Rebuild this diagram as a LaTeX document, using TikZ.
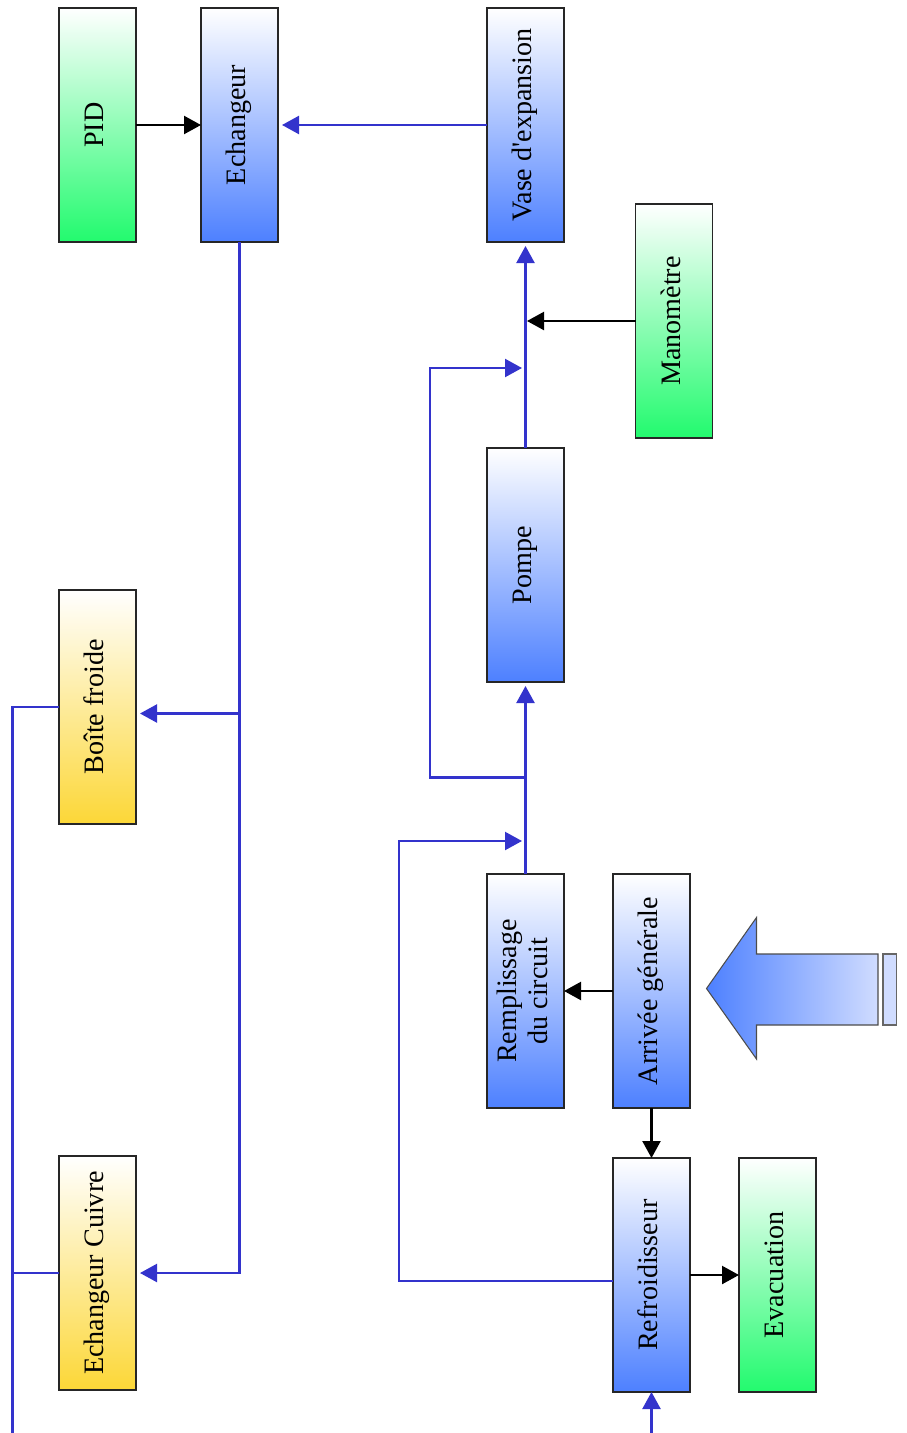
\documentclass[tikz,border=0pt]{standalone}
\usepackage{fontspec}
\setmainfont{Liberation Serif}
\usepackage{graphicx}
\usetikzlibrary{arrows.meta, positioning}
\definecolor{boxblue}{RGB}{77,128,255}
\definecolor{boxgreen}{RGB}{34,250,110}
\definecolor{boxyellow}{RGB}{252,215,55}
\definecolor{fluxblue}{RGB}{51,51,204}
\definecolor{paleblue}{RGB}{208,220,255}
\newcommand{\vtexte}[1]{\rotatebox{90}{\begin{tabular}{@{}c@{}}#1\end{tabular}}}
\tikzset{
    bloc/.style={rectangle, minimum width=1.54cm, minimum height=4.68cm, inner sep=0pt, outer sep=0pt, align=center, draw=black!85, line width=1.1pt, top color=white, font=\fontsize{16}{17.5}\selectfont},
    blocbleu/.style={bloc, bottom color=boxblue},
    blocvert/.style={bloc, bottom color=boxgreen},
    blocjaune/.style={bloc, bottom color=boxyellow},
    liaison/.style={line width=1.3pt, draw=fluxblue},
    flux/.style={liaison, -{Triangle[length=3.4mm,width=3.6mm]}, shorten >=0.08cm},
    signal/.style={line width=1.3pt, draw=black, -{Triangle[length=3.4mm,width=3.6mm]}}
}
\begin{document}
\begin{tikzpicture}
    \useasboundingbox (0,0) rectangle (18.12,-28.66);
    % Top row
    \node (pid) [blocvert] at (1.95,-2.5) {\vtexte{PID}};
    \node (ech) [blocbleu, right=1.3cm of pid] {\vtexte{Echangeur}};
    \node (vase) [blocbleu, right=4.18cm of ech] {\vtexte{Vase d\textquotesingle expansion}};
    \node (mano) [blocvert] at (13.48,-6.42) {\vtexte{Manomètre}};

    % Circuit
    \node (pompe) [blocbleu, below=4.12cm of vase] {\vtexte{Pompe}};
    \node (remp) [blocbleu, below=3.84cm of pompe] {\vtexte{Remplissage\\du circuit}};
    \node (arr) [blocbleu, right=0.98cm of remp] {\vtexte{Arrivée générale}};
    \node (refr) [blocbleu, below=1cm of arr] {\vtexte{Refroidisseur}};
    \node (evac) [blocvert, right=0.98cm of refr] {\vtexte{Evacuation}};

    % Left column
    \node (boite) [blocjaune, below=6.96cm of pid] {\vtexte{Boîte froide}};
    \node (cuivre) [blocjaune, below=6.64cm of boite] {\vtexte{Echangeur Cuivre}};

    % Big inlet arrow
    \shade[left color=boxblue, middle color=boxblue, right color=paleblue, draw=black!70, line width=0.6pt]
        (14.13,-19.77) -- (15.13,-18.35) -- (15.13,-19.08) -- (17.56,-19.08) -- (17.56,-20.5)
        -- (15.13,-20.5) -- (15.13,-21.18) -- cycle;
    \draw[fill=paleblue, draw=black!60, line width=0.6pt] (17.66,-19.08) rectangle (17.93,-20.5);

    % Helper points
    \coordinate (retour) at (0.25,-28.66);
    \coordinate (entree) at (refr.south |- retour);
    \coordinate (fb) at ([yshift=-0.13cm]boite.east);
    \coordinate (j1) at ([yshift=0.66cm]remp.north);
    \coordinate (j2) at ([yshift=1.93cm]remp.north);
    \coordinate (j3) at ([yshift=1.6cm]pompe.north);

    % Signal arrows
    \draw [signal] (pid) -- (ech);
    \draw [signal, shorten >=0.03cm] (mano.west) -- (mano.west -| vase.south);
    \draw [signal] (arr) -- (remp);
    \draw [signal] (arr) -- (refr);
    \draw [signal] (refr) -- (evac);

    % Fluid lines
    \draw [flux] (vase) -- (ech);
    \draw [flux] (ech.south) |- (cuivre.east);
    \draw [flux] (fb -| ech.south) -- (fb);
    \draw [liaison] (boite.west) -| (retour);
    \draw [liaison] (cuivre.west) -- (cuivre.west -| retour);
    \draw [flux, shorten >=0pt] (entree) -- (refr.south);
    \draw [flux] (remp.north) -- (pompe.south);
    \draw [flux] (pompe.north) -- (vase.south);
    \draw [flux, shorten >=0.07cm] ([yshift=-0.12cm]refr.west) -- ++(-4.28,0) |- (j1);
    \draw [flux, shorten >=0.07cm] (j2) -- ++(-1.91,0) |- (j3);
\end{tikzpicture}
\end{document}
